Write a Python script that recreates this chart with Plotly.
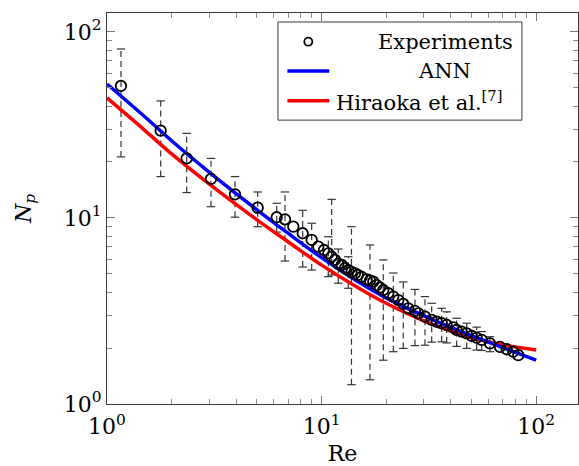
import plotly.graph_objects as go

# ---- data ----
re_exp = [1.162, 1.779, 2.352, 3.052, 3.949, 5.037, 6.178, 6.753, 7.383, 8.165,
          8.993, 9.652, 10.26, 10.75, 11.14, 11.54, 11.96, 12.41, 12.85, 13.32,
          13.78, 14.31, 14.77, 15.38, 16.23, 16.81, 17.42, 18.06, 18.71, 19.39,
          20.46, 21.59, 22.78, 24.03, 25.35, 27.24, 28.22, 30.33, 32.6, 34.39,
          36.28, 38.28, 41.09, 42.61, 44.96, 47.45, 50.06, 52.81, 55.72, 60.91,
          67.80, 72.89, 78.23, 82.54]
np_exp = [51.26, 29.48, 20.94, 16.21, 13.41, 11.36, 10.09, 9.84, 8.98, 8.28,
          7.62, 7.01, 6.73, 6.46, 6.19, 5.95, 5.66, 5.59, 5.37, 5.25,
          5.13, 5.04, 4.94, 4.83, 4.68, 4.61, 4.55, 4.36, 4.23, 4.10,
          3.94, 3.78, 3.62, 3.45, 3.27, 3.17, 3.07, 2.95, 2.83, 2.77,
          2.72, 2.66, 2.58, 2.50, 2.45, 2.40, 2.32, 2.27, 2.21, 2.12,
          2.03, 1.97, 1.91, 1.83]

# error bars (at selected experimental points)
bar_re = [1.162, 1.779, 2.352, 3.052, 3.949, 5.037, 6.178, 6.753, 8.165, 8.993,
          10.75, 11.14, 11.96, 13.32, 13.78, 16.81, 19.39, 21.59, 24.03, 27.24,
          30.33, 32.6, 36.28, 38.28, 42.61, 47.45, 52.81, 55.72, 60.91]
bar_hi = [81.0, 42.6, 28.5, 20.9, 16.7, 13.8, 12.0, 13.8, 11.0, 9.37,
          7.93, 12.6, 6.81, 6.19, 8.98, 7.16, 5.95, 5.06, 4.53, 4.13,
          3.78, 3.48, 3.27, 3.13, 2.89, 2.72, 2.59, 2.45, 2.30]
bar_lo = [21.3, 16.7, 13.7, 11.5, 10.1, 8.98, 8.4, 5.87, 5.45, 5.25,
          4.84, 4.94, 4.46, 4.19, 1.27, 1.35, 1.72, 1.91, 1.99, 2.06,
          2.07, 2.15, 2.16, 2.13, 2.04, 1.99, 1.95, 1.94, 1.91]

re_model = [1, 1.5, 2, 3, 5, 7, 10, 15, 20, 30, 50, 70, 100]
np_ann = [52.5, 35.0, 26.0, 17.6, 11.07, 8.26, 6.12, 4.50, 3.72, 2.98, 2.33, 2.01, 1.72]
np_hiraoka = [44.2, 29.6, 22.1, 15.2, 9.77, 7.43, 5.58, 4.18, 3.48, 2.80, 2.27, 2.08, 1.95]

# ---- figure ----
FONT = "DejaVu Serif"
FS = 22
fig = go.Figure()

# dashed error bar stems
ex, ey = [], []
for r, lo, hi in zip(bar_re, bar_lo, bar_hi):
    ex += [r, r, None]
    ey += [lo, hi, None]
fig.add_trace(go.Scatter(x=ex, y=ey, mode="lines", showlegend=False,
                         line=dict(color="#333333", width=1.2, dash="6px,4px"),
                         hoverinfo="skip"))
# caps
fig.add_trace(go.Scatter(x=bar_re + bar_re, y=bar_lo + bar_hi, mode="markers",
                         showlegend=False, hoverinfo="skip",
                         marker=dict(symbol="line-ew", size=6,
                                     line=dict(color="#333333", width=1.2))))

fig.add_trace(go.Scatter(x=re_model, y=np_hiraoka, mode="lines", name="Hiraoka",
                         line=dict(color="#ff0000", width=3.5, shape="spline"),
                         showlegend=False))
fig.add_trace(go.Scatter(x=re_model, y=np_ann, mode="lines", name="ANN",
                         line=dict(color="#0000ff", width=3.5, shape="spline"),
                         showlegend=False))
fig.add_trace(go.Scatter(x=re_exp, y=np_exp, mode="markers", name="Experiments",
                         marker=dict(symbol="circle-open", size=10.5, color="black",
                                     line=dict(color="black", width=1.8)),
                         showlegend=False))

minor_vals = [m * 10 ** k for k in range(0, 3) for m in range(2, 10)]

axis_common = dict(
    type="log", showgrid=False, zeroline=False,
    showline=True, linecolor="#3c3c3c", linewidth=1, mirror="allticks",
    ticks="inside", ticklen=8, tickcolor="#7a7a7a", tickwidth=1,
    tickmode="array", tickvals=[1, 10, 100],
    ticktext=["10<sup>0</sup>", "10<sup>1</sup>", "10<sup>2</sup>"],
    tickfont=dict(family=FONT, size=FS, color="black"),
    minor=dict(ticks="inside", ticklen=5, tickcolor="#8a8a8a", tickwidth=1,
               tickmode="array", tickvals=minor_vals, showgrid=False),
)

fig.update_xaxes(**axis_common, range=[0, 2.195], ticklabelstandoff=3,
                 title=dict(text="Re", font=dict(family=FONT, size=FS, color="black"),
                            standoff=10))
fig.update_yaxes(**axis_common, range=[0, 2.102],
                 title=dict(text="<i>N</i><sub><i>p</i></sub>",
                            font=dict(family=FONT, size=FS, color="black"),
                            standoff=26))

# ---- custom legend (paper coordinates) ----
shapes = [
    dict(type="rect", xref="paper", yref="paper", x0=0.363, x1=0.881, y0=0.726, y1=0.977,
         line=dict(color="#3c3c3c", width=1), fillcolor="white", layer="above"),
    dict(type="circle", xref="paper", yref="paper", x0=0.4274 - 0.0085, x1=0.4274 + 0.0085,
         y0=0.9266 - 0.0102, y1=0.9266 + 0.0102, line=dict(color="black", width=1.8),
         layer="above"),
    dict(type="line", xref="paper", yref="paper", x0=0.383, x1=0.472, y0=0.8517, y1=0.8517,
         line=dict(color="#0000ff", width=3.5), layer="above"),
    dict(type="line", xref="paper", yref="paper", x0=0.383, x1=0.472, y0=0.7757, y1=0.7757,
         line=dict(color="#ff0000", width=3.5), layer="above"),
]
annots = [
    dict(text="Experiments", x=0.7197, y=0.9266),
    dict(text="ANN", x=0.7176, y=0.8517),
    dict(text="Hiraoka et al.<sup>[7]</sup>", x=0.6614, y=0.7757),
]
for a in annots:
    a.update(xref="paper", yref="paper", xanchor="center", yanchor="middle",
             showarrow=False, font=dict(family=FONT, size=21, color="black"))

fig.update_layout(
    width=579, height=466,
    margin=dict(l=107, r=1, t=13, b=62),
    paper_bgcolor="white", plot_bgcolor="white",
    shapes=shapes, annotations=annots, showlegend=False,
    font=dict(family=FONT, size=FS, color="black"),
)

fig.write_html("out.html")
